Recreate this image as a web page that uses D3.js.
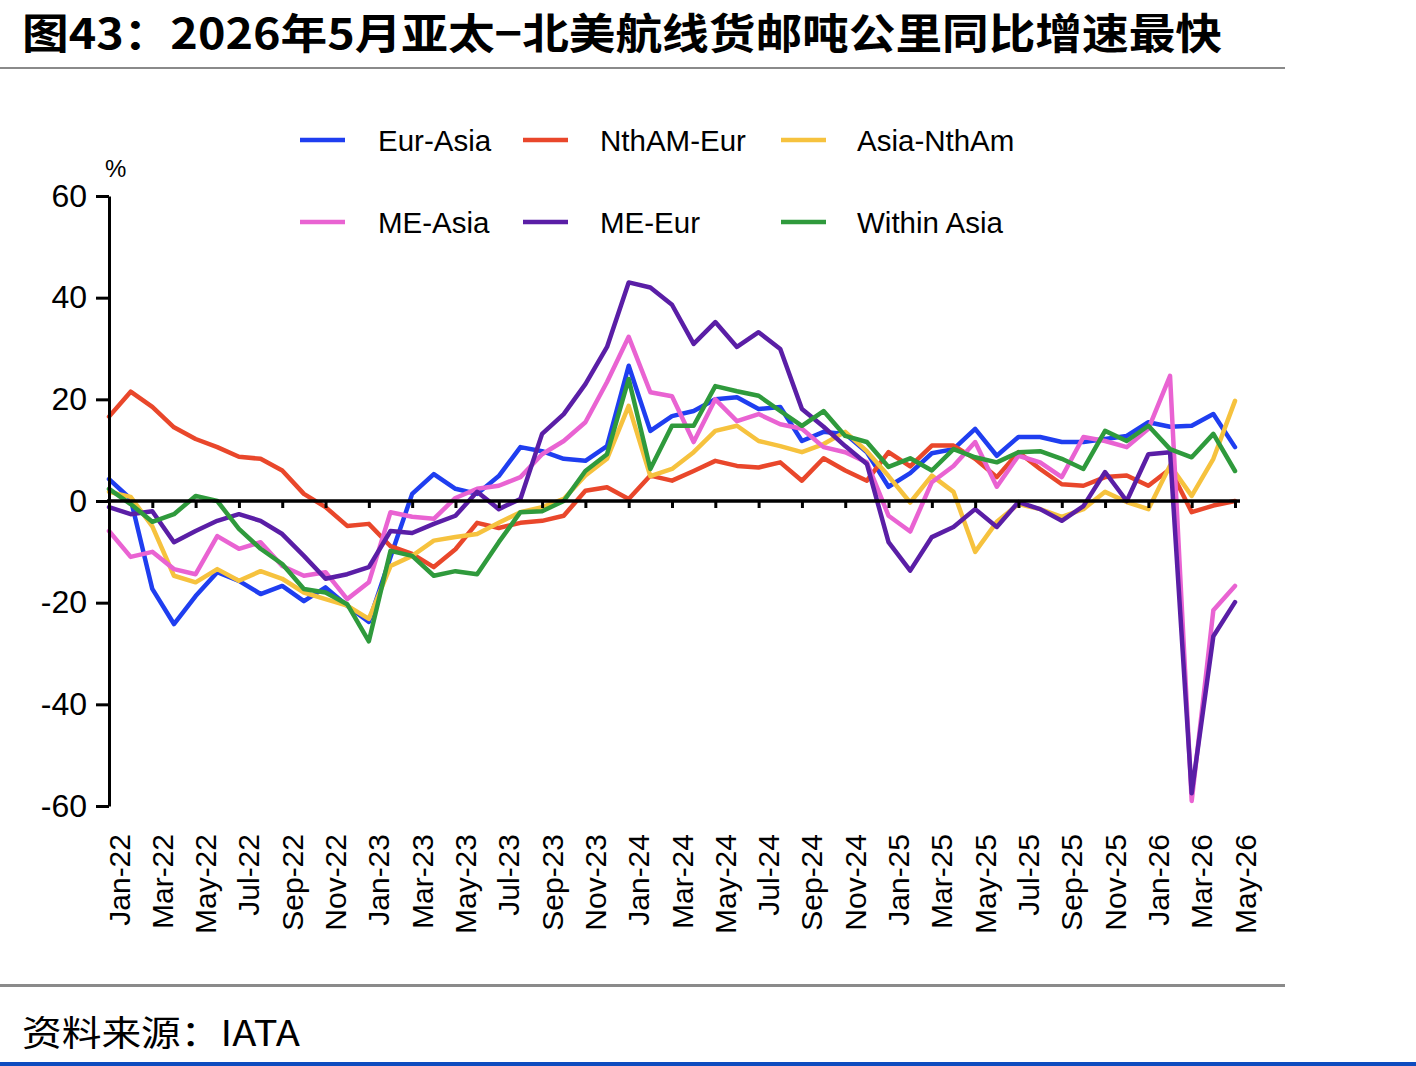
<!DOCTYPE html>
<meta charset="utf-8">
<style>
	body{ margin:0; background:#fff; }
	svg text{ font-family:"Liberation Sans", Arial, sans-serif; fill:#000; }
	.cjk{ font-family:"Noto Sans CJK SC", sans-serif; }
	.series{ fill:none; stroke-width:4.5; stroke-linejoin:round; stroke-linecap:round; }
</style>
<body>
<svg width="1416" height="1066" id="chart"></svg>
<script src="https://cdn.jsdelivr.net/npm/d3@7"></script>
<script>
	// months Jan-22 .. May-26
	var monthNames = ["Jan","Feb","Mar","Apr","May","Jun","Jul","Aug","Sep","Oct","Nov","Dec"];
	var months = [];
	for (var yr = 22; yr <= 26; yr++) {
		for (var m = 0; m < 12; m++) {
			if (yr == 26 && m > 4) break;
			months.push(monthNames[m] + "-" + yr);
		}
	}

	var seriesNames = ["Eur-Asia", "NthAM-Eur", "Asia-NthAm", "ME-Asia", "ME-Eur", "Within Asia"];
	var seriesColors = ["#1f3ef0", "#e9472b", "#f6c23e", "#e963d2", "#5a1ea6", "#2f9a3c"];

	var eurAsia = [4.3, 0.4, -17.3, -24.2, -18.7, -14, -15.7, -18.3, -16.7, -19.7, -17, -20.6, -23.8,
		-11, 1.4, 5.3, 2.4, 1.4, 4.9, 10.6, 9.8, 8.3, 7.9, 10.8, 26.6,
		13.8, 16.7, 17.7, 20, 20.4, 18.1, 18.5, 11.8, 13.6, 13.2, 9.6, 2.8,
		5.5, 9.4, 10.2, 14.2, 8.9, 12.6, 12.6, 11.6, 11.6, 12.2, 12.8, 15.5,
		14.6, 14.8, 17.1, 10.6];
	var nthamEur = [16.6, 21.5, 18.5, 14.5, 12.2, 10.6, 8.7, 8.3, 6, 1.4, -1.2, -4.9, -4.5,
		-8.9, -10.4, -13, -9.5, -4.3, -5.3, -4.3, -3.9, -2.9, 2, 2.7, 0.4,
		5, 4, 5.9, 7.9, 6.9, 6.6, 7.6, 4, 8.4, 6, 4, 9.6,
		6.8, 10.9, 10.9, 8.3, 4.7, 9.6, 6.3, 3.3, 3.0, 4.7, 5, 3,
		6.3, -2.2, -0.9, 0];
	var asiaNtham = [1.8, 0.8, -5, -14.7, -16, -13.4, -15.7, -13.8, -15.3, -18, -19.3, -20.6, -23.2,
		-12.8, -10.8, -7.8, -7.1, -6.5, -4.3, -2.2, -1.2, 0.4, 5, 8.3, 18.7,
		4.9, 6.3, 9.6, 13.8, 14.8, 11.8, 10.8, 9.6, 11.2, 13.6, 9.8, 4.9,
		-0.3, 5, 1.8, -10, -4.1, -0.6, -1.6, -3.1, -1.6, 1.8, -0.2, -1.6,
		7, 1, 8.3, 19.7];
	var meAsia = [-5.9, -11, -10, -13.4, -14.4, -6.9, -9.4, -8.1, -12.8, -14.7, -14, -19.3, -16,
		-2.2, -3.1, -3.5, 0.6, 2.4, 3, 4.7, 9.2, 11.8, 15.5, 23.4, 32.3,
		21.4, 20.6, 11.6, 20, 15.7, 17.1, 15.1, 14.2, 10.6, 9.6, 7.6, -2.9,
		-6, 3.7, 6.9, 11.6, 2.8, 8.9, 7.6, 4.7, 12.6, 11.8, 10.6, 14.2,
		24.6, -59, -21.5, -16.7];
	var meEur = [-1.2, -2.6, -2, -8.1, -5.9, -3.9, -2.6, -3.9, -6.5, -10.8, -15.3, -14.4, -13,
		-5.9, -6.3, -4.5, -2.9, 1.8, -1.6, 0.4, 13.2, 17.1, 23, 30.3, 43,
		42, 38.6, 30.9, 35.2, 30.3, 33.2, 29.9, 18.1, 14.6, 10.8, 7.3, -8.1,
		-13.7, -7.1, -5.1, -1.6, -5.1, -0.2, -1.6, -3.9, -1, 5.7, 0, 9.2,
		9.6, -57.5, -26.6, -19.9];
	var withinAsia = [2.4, -0.6, -4.1, -2.6, 1, 0, -5.5, -9.4, -12.4, -17.3, -18, -20.3, -27.6,
		-9.8, -10.8, -14.7, -13.8, -14.4, -8.1, -2.2, -2, 0, 5.9, 9.2, 24,
		6.3, 14.8, 14.8, 22.6, 21.6, 20.7, 17.7, 14.8, 17.7, 12.8, 11.6, 6.7,
		8.4, 6, 10.2, 8.6, 7.6, 9.6, 9.8, 8.3, 6.3, 13.8, 11.8, 14.8,
		10.2, 8.6, 13.2, 5.9];

	var yTicks = [-60, -40, -20, 0, 20, 40, 60];
	var xTickLabels = months.filter(function(d, i){ return i % 2 == 0; });

	var seriesValues = [eurAsia, nthamEur, asiaNtham, meAsia, meEur, withinAsia];

	var svg = d3.select("#chart");

	var x = d3.scalePoint().domain(months).range([109, 1235]);
	var y = d3.scaleLinear().domain([-60, 60]).range([806, 196]);

	/* title and separators */
	svg.append("text")
		.attr("class", "cjk")
		.attr("x", 22).attr("y", 49)
		.attr("textLength", 1200).attr("lengthAdjust", "spacingAndGlyphs")
		.style("font-size", "42px").style("font-weight", 700)
		.text("图43：2026年5月亚太−北美航线货邮吨公里同比增速最快");
	svg.append("rect").attr("x", 0).attr("y", 67).attr("width", 1285).attr("height", 2).attr("fill", "#8a8a8a");
	svg.append("rect").attr("x", 0).attr("y", 984).attr("width", 1285).attr("height", 3).attr("fill", "#8a8a8a");
	svg.append("rect").attr("x", 0).attr("y", 1062).attr("width", 1416).attr("height", 4).attr("fill", "#0e4cbf");
	svg.append("text")
		.attr("class", "cjk")
		.attr("x", 22).attr("y", 1046)
		.attr("textLength", 278).attr("lengthAdjust", "spacingAndGlyphs")
		.style("font-size", "35px")
		.text("资料来源：IATA");

	/* lines */
	var line = d3.line()
		.x(function(d, i){ return x(months[i]); })
		.y(function(d){ return y(d); });

	svg.selectAll("path.series")
		.data(seriesValues)
		.enter().append("path")
		.attr("class", "series")
		.attr("stroke", function(d, i){ return seriesColors[i]; })
		.attr("d", line);

	/* y axis */
	var yAxis = svg.append("g")
		.attr("transform", "translate(109,0)")
		.call(d3.axisLeft(y).tickValues(yTicks).tickSize(13).tickSizeOuter(0).tickPadding(9)
			.tickFormat(function(d){ return String(d); }));
	yAxis.selectAll("path, line").attr("stroke", "#000").attr("stroke-width", 3);
	yAxis.selectAll("text").style("font-size", "32px").style("font-family", "Liberation Sans, Arial, sans-serif");

	svg.append("text")
		.attr("x", 105).attr("y", 177)
		.style("font-size", "24px")
		.text("%");

	/* zero line with month ticks */
	var xAxis = svg.append("g")
		.attr("transform", "translate(0," + y(0) + ")")
		.call(d3.axisBottom(x).tickValues(xTickLabels).tickSize(7).tickSizeOuter(0).tickFormat(""));
	xAxis.select("path").attr("stroke", "#000").attr("stroke-width", 3.5).attr("d", "M107,0H1240");
	xAxis.selectAll("line").attr("stroke", "#000").attr("stroke-width", 3);

	svg.selectAll("text.xlab")
		.data(xTickLabels)
		.enter().append("text")
		.attr("class", "xlab")
		.attr("transform", function(d){ return "translate(" + (x(d) + 20.5) + ",834) rotate(-90)"; })
		.attr("text-anchor", "end")
		.style("font-size", "30px")
		.text(function(d){ return d; });

	/* legend */
	var legendX = [300, 523, 781];
	var legendTextX = [378, 600, 857];
	var legendY = [140, 222];
	var legend = svg.selectAll("g.legend")
		.data(seriesNames)
		.enter().append("g")
		.attr("class", "legend")
		.attr("transform", function(d, i){ return "translate(0," + legendY[Math.floor(i / 3)] + ")"; });
	legend.append("line")
		.attr("x1", function(d, i){ return legendX[i % 3]; })
		.attr("x2", function(d, i){ return legendX[i % 3] + 45; })
		.attr("stroke", function(d, i){ return seriesColors[i]; })
		.attr("stroke-width", 4.5);
	legend.append("text")
		.attr("x", function(d, i){ return legendTextX[i % 3]; })
		.attr("y", 11)
		.style("font-size", "29.5px")
		.text(function(d){ return d; });
</script>
</body>
